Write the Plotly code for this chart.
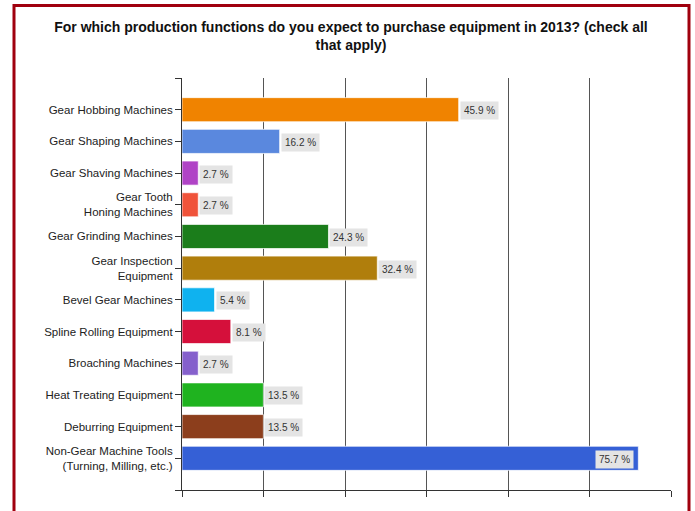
import plotly.graph_objects as go

# Survey answers, top to bottom
categories = [
    "Gear Hobbing Machines",
    "Gear Shaping Machines",
    "Gear Shaving Machines",
    "Gear Tooth<br>Honing Machines",
    "Gear Grinding Machines",
    "Gear Inspection<br>Equipment",
    "Bevel Gear Machines",
    "Spline Rolling Equipment",
    "Broaching Machines",
    "Heat Treating Equipment",
    "Deburring Equipment",
    "Non-Gear Machine Tools<br>(Turning, Milling, etc.)",
]
percent = [45.9, 16.2, 2.7, 2.7, 24.3, 32.4, 5.4, 8.1, 2.7, 13.5, 13.5, 75.7]
bar_colors = [
    "#f08300", "#5a88de", "#b043c6", "#f0533a", "#1b7d1b", "#b07e0c",
    "#0fb2ef", "#d5103b", "#8560cc", "#1fb31f", "#8c3e1c", "#3560d6",
]

positions = list(range(len(categories)))
step = 13.52          # grid spacing in percent
x_max = step * 6

fig = go.Figure(
    go.Bar(
        x=percent,
        y=positions,
        orientation="h",
        width=0.76,
        marker=dict(color=bar_colors, line=dict(color="rgba(255,255,255,0.7)", width=1)),
        hoverinfo="skip",
    )
)

# value labels on grey tags
for pos, val in zip(positions, percent):
    inside = val > x_max * 0.85
    fig.add_annotation(
        x=val, y=pos, xref="x", yref="y",
        text=f"{val} %",
        showarrow=False,
        xanchor="right" if inside else "left",
        xshift=-4 if inside else 1,
        yshift=-1,
        bgcolor="#e4e4e4",
        borderpad=3,
        font=dict(family="Liberation Sans, Arial, sans-serif", size=10, color="#333333"),
    )

L, R, T, B = 182, 24, 78, 21
W, H = 695, 511
pw, ph = W - L - R, H - T - B


def px_to_paper_x(px):
    return (px - L) / pw


def px_to_paper_y(py):
    return (H - B - py) / ph


# dark red frame around the whole chart
fig.add_shape(
    type="rect", xref="paper", yref="paper",
    x0=px_to_paper_x(14), x1=px_to_paper_x(689),
    y0=px_to_paper_y(530), y1=px_to_paper_y(5.5),
    line=dict(color="#a0000e", width=3),
    fillcolor="rgba(0,0,0,0)", layer="below",
)

fig.update_layout(
    width=W, height=H,
    margin=dict(l=L, r=R, t=T, b=B),
    paper_bgcolor="white",
    plot_bgcolor="white",
    showlegend=False,
    title=dict(
        text="For which production functions do you expect to purchase equipment in 2013? (check all<br>that apply)",
        x=0.505, xref="container", xanchor="center",
        y=1 - 32 / H, yanchor="top",
        font=dict(family="Liberation Sans, Arial, sans-serif", size=14, color="#111111", weight="bold"),
    ),
    xaxis=dict(
        range=[0, x_max],
        tick0=0, dtick=step,
        showticklabels=False,
        showgrid=True, gridcolor="#555555", gridwidth=1,
        showline=True, linecolor="#333333", linewidth=1,
        ticks="outside", ticklen=6, tickcolor="#333333",
        zeroline=False, fixedrange=True,
    ),
    yaxis=dict(
        range=[len(categories), -1],
        tickmode="array",
        tickvals=[-1] + positions + [len(categories)],
        ticktext=[""] + categories + [""],
        showgrid=False,
        showline=True, linecolor="#333333", linewidth=1,
        ticks="outside", ticklen=6, tickcolor="#333333",
        tickfont=dict(family="Liberation Sans, Arial, sans-serif", size=11.5, color="#222222"),
        zeroline=False, fixedrange=True,
    ),
    # right-hand axis used only for its line, which closes the grid on the right
    yaxis2=dict(
        overlaying="y", side="right", anchor="x",
        range=[len(categories), -1],
        showline=True, linecolor="#777777", linewidth=1,
        showticklabels=False, ticks="", showgrid=False, zeroline=False,
        fixedrange=True,
    ),
)

fig.write_html("out.html")
